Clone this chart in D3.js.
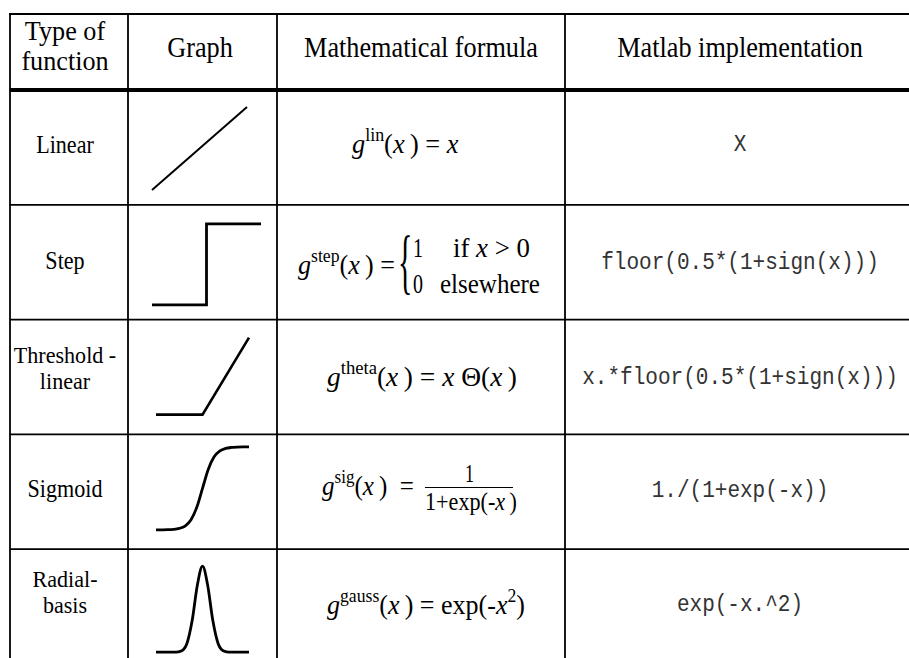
<!DOCTYPE html>
<html><head><meta charset="utf-8">
<script src="https://cdn.jsdelivr.net/npm/d3@7"></script>
<style>body{margin:0;background:#fff} svg{display:block} text{white-space:pre}</style>
</head><body><svg id="c" width="909" height="658"></svg>
<script>
// ---------------- data ----------------
const headers = [["Type of","function"],["Graph"],["Mathematical formula"],["Matlab implementation"]];
const typeNames = [["Linear"],["Step"],["Threshold -","linear"],["Sigmoid"],["Radial-","basis"]];
const superscripts = ["lin","step","theta","sig","gauss"];
const matlabCode = ["X","floor(0.5*(1+sign(x)))","x.*floor(0.5*(1+sign(x)))","1./(1+exp(-x))","exp(-x.^2)"];
const stepCases = [["1","if ","x"," > 0"],["0","elsewhere"]];
const linearX = [-1, 1];
const linearY = [-1, 1];
const stepX = [-1, 0, 0, 1];
const stepY = [0, 0, 1, 1];
const thetaX = [-1, 0, 1];
const thetaY = [0, 0, 1];
const sigmoidX = [-8,-7,-6,-5,-4,-3,-2,-1,0,1,2,3,4,5,6,7,8];
const sigmoidY = [0.0003,0.0009,0.0025,0.0067,0.018,0.047,0.119,0.269,0.5,0.731,0.881,0.953,0.982,0.9933,0.9975,0.9991,0.9997];
const gaussX = [-4.5,-4,-3.5,-3,-2.5,-2,-1.5,-1,-0.5,0,0.5,1,1.5,2,2.5,3,3.5,4,4.5];
const gaussY = [0,0,0,0,0.002,0.018,0.105,0.368,0.779,1,0.779,0.368,0.105,0.018,0.002,0,0,0,0];

// ---------------- layout ----------------
const svg = d3.select("#c");
const SERIF = "'Liberation Serif','Times New Roman',serif";
const MONO = "'Liberation Mono','Courier New',monospace";
const colEdges = [10, 128, 277, 565, 915];
const colCenters = [65, 200, 421, 740];
const tableTop = 14, headerBottom = 90, tableBottom = 664;
const rowScale = d3.scaleBand().domain(d3.range(typeNames.length)).range([headerBottom, tableBottom]);

// centred text, one element per line
function block(g, x, y, linesArr, opts) {
  linesArr.forEach((l, k) => {
    const size = linesArr.length > 1 ? opts.size2 : opts.size;
    const sx = linesArr.length > 1 ? opts.sx2 : opts.sx;
    g.append("text")
      .attr("transform", `translate(${x},${y + k * (opts.lh || 0)}) scale(${sx},1)`)
      .attr("text-anchor", "middle")
      .attr("font-family", opts.family || SERIF)
      .attr("font-size", size)
      .attr("fill", opts.fill || "#000")
      .text(l);
  });
}

// ---- grid lines ----
const lines = svg.append("g").attr("stroke", "#000");
lines.append("line").attr("x1", colEdges[0]-1).attr("x2", colEdges[4]).attr("y1", tableTop).attr("y2", tableTop).attr("stroke-width", 2);
lines.append("line").attr("x1", colEdges[0]).attr("x2", colEdges[4]).attr("y1", headerBottom).attr("y2", headerBottom).attr("stroke-width", 4);
d3.range(1, typeNames.length).forEach(i => {
  const y = rowScale(i);
  lines.append("line").attr("x1", colEdges[0]).attr("x2", colEdges[4]).attr("y1", y).attr("y2", y).attr("stroke-width", 1.8);
});
colEdges.forEach(x => {
  lines.append("line").attr("x1", x).attr("x2", x).attr("y1", tableTop).attr("y2", tableBottom).attr("stroke-width", 1.8);
});

// ---- header ----
const hg = svg.append("g");
const headerBase = [40, 57, 57, 57];
headers.forEach((h, c) => block(hg, colCenters[c], headerBase[c], h, {size: 30, sx: 0.875, size2: 27, sx2: 0.97, lh: 30}));

// ---- type names ----
const tg = svg.append("g");
const nameBase = [153, 269, 363, 497, 587];
typeNames.forEach((n, r) => block(tg, colCenters[0], nameBase[r], n, {size: 26, sx: 0.85, size2: 23.5, sx2: 0.94, lh: 26}));

// ---- graphs ----
const graphs = [
  {x: linearX, y: linearY, box: [152, 247, 100, 17], w: 2, curve: d3.curveLinear},
  {x: stepX, y: stepY, box: [152, 261, 100, 19], w: 2.8, curve: d3.curveLinear},
  {x: thetaX, y: thetaY, box: [156, 249, 95, 18], w: 2.6, curve: d3.curveLinear},
  {x: sigmoidX, y: sigmoidY, box: [156, 249, 95.5, 12.5], w: 2.8, curve: d3.curveMonotoneX},
  {x: gaussX, y: gaussY, box: [156, 249, 103, 17], w: 2.8, curve: d3.curveMonotoneX}
];
const gg = svg.append("g");
graphs.forEach((G, r) => {
  const top = rowScale(r);
  const xs = d3.scaleLinear().domain(d3.extent(G.x)).range([G.box[0], G.box[1]]);
  const ys = d3.scaleLinear().domain(d3.extent(G.y)).range([top + G.box[2], top + G.box[3]]);
  const pts = G.x.map((v, i) => [v, G.y[i]]);
  gg.append("path")
    .attr("d", d3.line().x(d => xs(d[0])).y(d => ys(d[1])).curve(G.curve)(pts))
    .attr("fill", "none").attr("stroke", "#000").attr("stroke-width", G.w)
    .attr("stroke-linejoin", "miter");
});

// ---- formulas ----
const fg = svg.append("g");
function formula(x0, w, y, parts, size) {
  size = size || 28;
  const t = fg.append("text").attr("font-family", SERIF).attr("font-size", size)
    .attr("transform", `translate(${x0},${y})`);
  let raised = false;
  parts.forEach(p => {
    const s = t.append("tspan").text(p.t);
    if (p.i) s.attr("font-style", "italic");
    if (p.sup) {
      s.attr("font-size", size * 0.68);
      if (!raised) { s.attr("dy", -size * 0.42); raised = true; }
    } else if (raised) { s.attr("dy", size * 0.42); raised = false; }
  });
  const bb = t.node().getBBox();
  const k = w / bb.width;
  t.attr("transform", `translate(${x0 - bb.x * k},${y}) scale(${k},1)`);
  return t;
}
const lhs = (r) => [{t: "g", i: 1}, {t: superscripts[r], sup: 1}, {t: "("}, {t: "x", i: 1}, {t: "\u2009)"}];

// Linear
formula(352, 107, 153, lhs(0).concat([{t: " = "}, {t: "x", i: 1}]));
// Step
formula(298, 97, 274, lhs(1).concat([{t: " ="}]));
fg.append("text").attr("transform", "translate(398,285) scale(0.75,1.8)")
  .attr("font-family", SERIF).attr("font-size", 40).text("{");
formula(413, 10, 257, [{t: stepCases[0][0]}]);
formula(453, 77, 257, [{t: stepCases[0][1]}, {t: stepCases[0][2], i: 1}, {t: stepCases[0][3]}]);
formula(413, 10, 293, [{t: stepCases[1][0]}]);
formula(440, 100, 293, [{t: stepCases[1][1]}]);
// Threshold-linear
formula(327, 190, 386, lhs(2).concat([{t: " = "}, {t: "x", i: 1}, {t: " \u0398("}, {t: "x", i: 1}, {t: "\u2009)"}]));
// Sigmoid
formula(322, 92, 495, lhs(3).concat([{t: "  ="}]));
formula(465, 9, 482, [{t: "1"}], 26);
fg.append("line").attr("x1", 425).attr("x2", 513).attr("y1", 487.5).attr("y2", 487.5).attr("stroke", "#000").attr("stroke-width", 1.2);
formula(425, 92, 510, [{t: "1+exp(-"}, {t: "x", i: 1}, {t: "\u2009)"}], 26);
// Gaussian
formula(327, 198, 614, lhs(4).concat([{t: " = exp(-"}, {t: "x", i: 1}, {t: "2", sup: 1}, {t: ")"}]));

// ---- matlab ----
const mg = svg.append("g");
const codeBase = [151, 269, 384, 497, 611];
matlabCode.forEach((c, r) => block(mg, colCenters[3], codeBase[r], [c], {family: MONO, size: 23, sx: 0.915, fill: "#333"}));
</script></body></html>
